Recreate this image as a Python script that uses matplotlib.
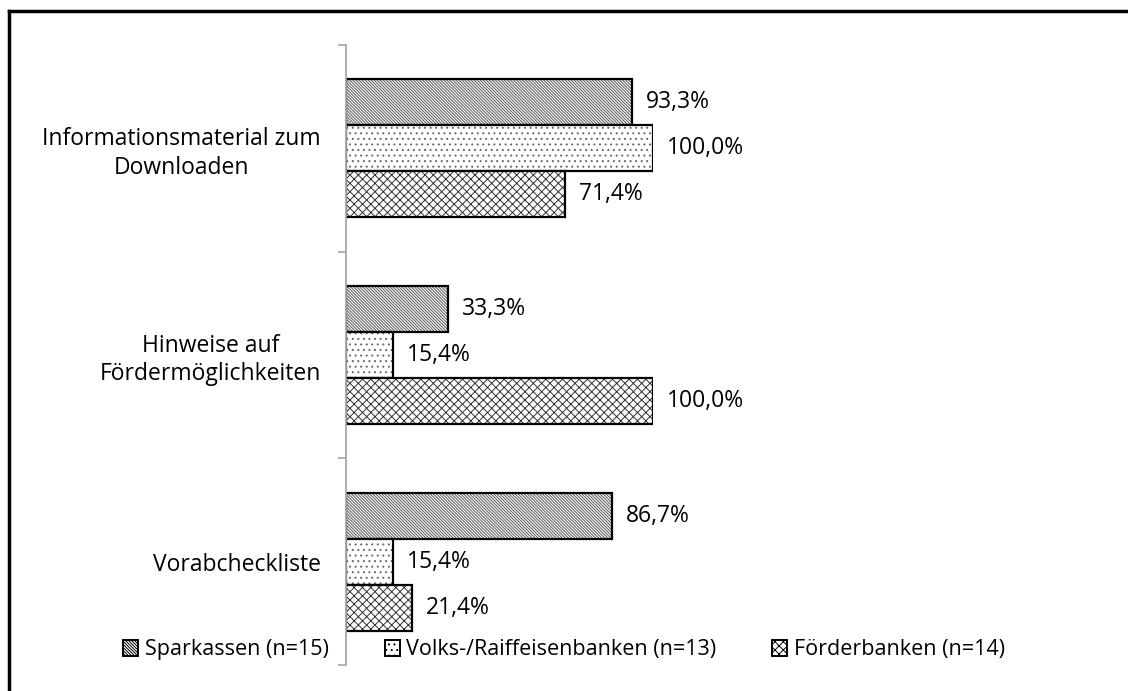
import numpy as np
import matplotlib.pyplot as plt
from matplotlib.lines import Line2D

plt.rcParams['font.family'] = ['Open Sans', 'DejaVu Sans']
plt.rcParams['hatch.linewidth'] = 0.7

categories = ['Informationsmaterial zum\nDownloaden',
              'Hinweise auf\nFördermöglichkeiten',
              'Vorabcheckliste']
series_names = ['Sparkassen (n=15)', 'Volks-/Raiffeisenbanken (n=13)', 'Förderbanken (n=14)']
sparkassen = [93.3, 33.3, 86.7]
volksbanken = [100.0, 15.4, 15.4]
foerderbanken = [71.4, 100.0, 21.4]

hatches = ['\\' * 11, '...', 'xxxx']
hatch_colors = ['#555555', '#666666', '#333333']

fig = plt.figure(figsize=(11.28, 6.91), dpi=100)
ax = fig.add_axes([346 / 1128, 1 - 665 / 691, 307 / 1128, 620 / 691])

y = np.arange(len(categories))
h = 0.223
offsets = [-h, 0, h]
values = [sparkassen, volksbanken, foerderbanken]
fs = 16.5

handles = []
for vals, off, hatch, hc, name in zip(values, offsets, hatches, hatch_colors, series_names):
    # hatch layer first, black outline on top
    ax.barh(y + off, vals, height=h, color='white', edgecolor=hc, linewidth=0, hatch=hatch)
    bars = ax.barh(y + off, vals, height=h, fill=False, edgecolor='black', linewidth=1.6)
    handles.append(plt.Rectangle((0, 0), 1, 1, facecolor='white', edgecolor='black',
                                 linewidth=1.4, hatch=hatch, label=name))
    for b, v in zip(bars, vals):
        ax.annotate(('%.1f' % v).replace('.', ',') + '%',
                    xy=(v, b.get_y() + b.get_height() / 2),
                    xytext=(10, 0), textcoords='offset points',
                    ha='left', va='center', fontsize=fs, annotation_clip=False)

ax.set_xlim(0, 100)
ax.set_ylim(2.5, -0.5)
ax.set_yticks(y)
ax.set_yticklabels(categories, fontsize=fs, ha='right', multialignment='center',
                   linespacing=1.25)
ax.set_yticks([-0.5, 0.5, 1.5, 2.5], minor=True)
ax.tick_params(axis='y', which='major', length=0, pad=18)
ax.tick_params(axis='y', which='minor', length=6, color='#a6a6a6', width=1.2)
ax.set_xticks([])
for s in ['top', 'right', 'bottom']:
    ax.spines[s].set_visible(False)
ax.spines['left'].set_color('#a6a6a6')
ax.spines['left'].set_linewidth(1.3)

fig.legend(handles=handles, loc='center', bbox_to_anchor=(564 / 1128, 1 - 650 / 691),
           ncol=3, frameon=False, fontsize=15.5, handlelength=0.7, handleheight=0.7,
           handletextpad=0.3, columnspacing=2.6)

# outer border: left and top edges
x0, y0 = 9 / 1128, 1 - 11 / 691
fig.add_artist(Line2D([x0, x0], [0, y0], transform=fig.transFigure, color='black', lw=2.5))
fig.add_artist(Line2D([x0, 1], [y0, y0], transform=fig.transFigure, color='black', lw=2.5))

fig.savefig('out.png', dpi=100)
